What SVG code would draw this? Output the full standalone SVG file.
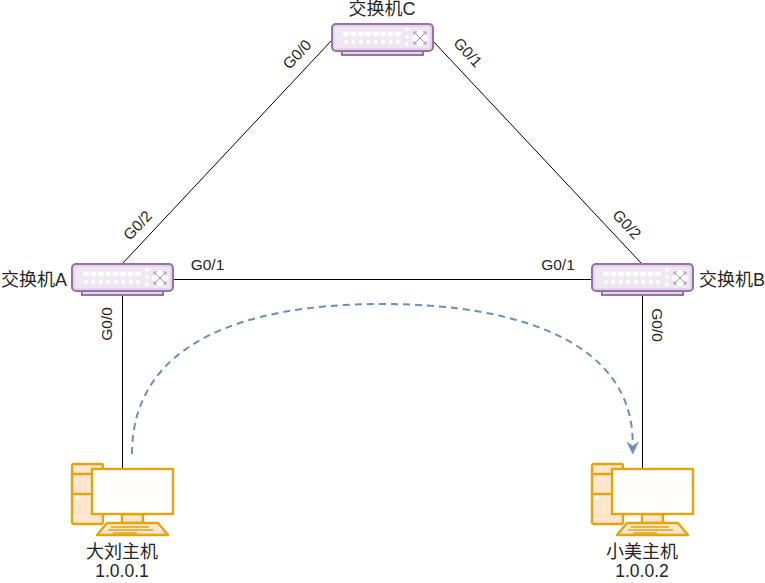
<svg xmlns="http://www.w3.org/2000/svg" width="765" height="583" viewBox="0 0 765 583">
<style>
text{font-family:"Liberation Sans","Noto Sans CJK SC",sans-serif;fill:#262626;text-anchor:middle}
.lb{font-size:18px}
.ip{font-size:17.5px}
.pt{font-size:15.5px}
.sw{fill:#e1d5e7;stroke:#9673a6;stroke-width:2}
.dot{fill:#fff;stroke:none}
.x{fill:none;stroke:#a98bb6;stroke-width:1}
.hy{fill:#ffe6cc;stroke:#e3a50f;stroke-width:2.4;stroke-linejoin:round}
.w{fill:#fffefb;stroke:#e3a50f;stroke-width:2.4}
.l{fill:none;stroke:#000;stroke-width:1}
</style>
<defs>
<g id="switch">
<rect class="sw" x="10" y="27" width="81" height="4"/>
<rect class="sw" x="0" y="0" width="101" height="27" rx="4"/>
<rect x="3" y="3" width="95" height="21" rx="2" fill="#efe7f2"/>
<g class="dot">
<path d="M11 8h6v3l-3 2-3-2zM18.400 8h6v3l-3 2-3-2zM25.900 8h6v3l-3 2-3-2zM33.300 8h6v3l-3 2-3-2zM40.700 8h6v3l-3 2-3-2zM48.100 8h6v3l-3 2-3-2zM55.600 8h6v3l-3 2-3-2zM63 8h6v3l-3 2-3-2z"/>
<circle cx="14" cy="18" r="2"/><circle cx="21.400" cy="18" r="2"/><circle cx="28.900" cy="18" r="2"/><circle cx="36.300" cy="18" r="2"/><circle cx="43.700" cy="18" r="2"/><circle cx="51.100" cy="18" r="2"/><circle cx="58.600" cy="18" r="2"/><circle cx="66" cy="18" r="2"/>
<circle cx="75" cy="5.500" r="2"/><circle cx="75" cy="13" r="2"/><circle cx="75" cy="20.500" r="2"/>
<circle cx="88" cy="14" r="8"/>
</g>
<path class="x" d="M82 8l12 12M94 8L82 20M82 8v3M82 8h3M94 8v3M94 8h-3M82 20v-3M82 20h3M94 20v-3M94 20h-3"/>
</g>
<g id="host">
<rect class="hy" x="0" y="0" width="31" height="60" rx="2"/>
<path class="hy" d="M0 10h31M0 30h31"/>
<circle cx="5" cy="34" r="1.800" fill="#fff"/>
<rect class="hy" x="50" y="50" width="21" height="9"/>
<path class="hy" d="M35 59h51l10 12H25z"/>
<rect class="w" x="20" y="5" width="81" height="45"/>
<path d="M39 63h38M36 66h45M41 69h24" fill="none" stroke="#e3a50f" stroke-width="1.500"/>
</g>
</defs>
<g id="connectors">
<path class="l" d="M122 264L332 40"/>
<path class="l" d="M432 40L642 264"/>
<path class="l" d="M173 279.500H592"/>
<path class="l" d="M122.500 295V469"/>
<path class="l" d="M642.500 295V469"/>
<path d="M132 454C132 345 240 304 382 304S632.700 345 632.700 443" fill="none" stroke="#6c8ebf" stroke-width="2" stroke-dasharray="7 5"/>
<path d="M627 442L632.700 446 638.500 442 632.700 454z" fill="#6c8ebf" stroke="#6c8ebf" stroke-width="0.500"/>
</g>
<g id="switch-c"><use href="#switch" x="332" y="24"/><text class="lb" x="382" y="15">交换机C</text></g>
<g id="switch-a"><use href="#switch" x="72" y="264"/><text class="lb" x="34" y="285.500">交换机A</text></g>
<g id="switch-b"><use href="#switch" x="592" y="264"/><text class="lb" x="732" y="285.500">交换机B</text></g>
<g id="host-a"><use href="#host" x="72" y="464"/><text class="lb" x="122" y="558">大刘主机</text><text class="ip" x="122" y="577">1.0.0.1</text></g>
<g id="host-b"><use href="#host" x="592" y="464"/><text class="lb" x="642" y="558">小美主机</text><text class="ip" x="642" y="577">1.0.0.2</text></g>
<g id="ports">
<text class="pt" transform="translate(301 58) rotate(-47)">G0/0</text>
<text class="pt" transform="translate(464 56) rotate(47)">G0/1</text>
<text class="pt" transform="translate(141.500 229) rotate(-47)">G0/2</text>
<text class="pt" transform="translate(623 228) rotate(47)">G0/2</text>
<text class="pt" x="207.500" y="270">G0/1</text>
<text class="pt" x="558" y="270">G0/1</text>
<text class="pt" transform="translate(112 324) rotate(-90)">G0/0</text>
<text class="pt" transform="translate(652 325) rotate(90)">G0/0</text>
</g>
</svg>
